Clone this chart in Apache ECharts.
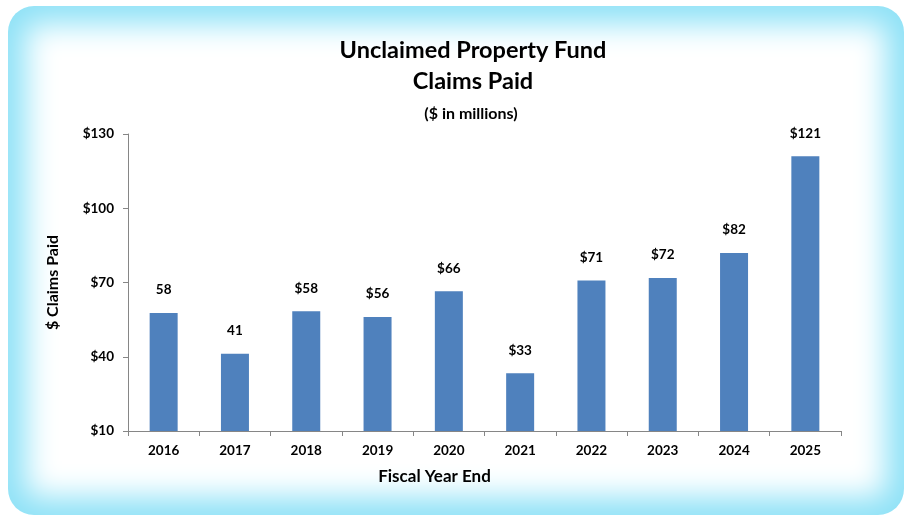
<!DOCTYPE html>
<html>
<head>
<meta charset="utf-8">
<script src="https://cdn.jsdelivr.net/npm/echarts@6/dist/echarts.min.js"></script>
<style>
  html, body {
    margin: 0;
    padding: 0;
    width: 906px;
    height: 516px;
    background: #ffffff;
    overflow: hidden;
  }
  #frame {
    position: absolute;
    left: 8px;
    top: 6px;
    width: 896px;
    height: 509px;
    border-radius: 26px;
    background: #ffffff;
    box-shadow: inset 0 0 30px 18px #8fe2f7;
  }
  #main {
    position: absolute;
    left: 0;
    top: 0;
    width: 906px;
    height: 516px;
  }
</style>
</head>
<body>
<div id="frame"></div>
<div id="main"></div>
<script>
// fiscal years and claims paid ($ millions)
const years = ["2016", "2017", "2018", "2019", "2020", "2021", "2022", "2023", "2024", "2025"];
const claimsPaid = [57.7, 41.2, 58.4, 56.1, 66.5, 33.3, 70.8, 71.8, 81.9, 121.0];
const barLabels = ["58", "41", "$58", "$56", "$66", "$33", "$71", "$72", "$82", "$121"];
const yTicks = [10, 40, 70, 100, 130];

const font = "Lato, 'Open Sans', sans-serif";

const myChart = echarts.init(document.getElementById("main"));

const option = {
  animation: false,
  textStyle: { fontFamily: font },
  title: [
    {
      text: "Unclaimed Property Fund\nClaims Paid",
      left: 468,
      top: 30,
      textAlign: "center",
      textStyle: {
        fontFamily: font,
        fontSize: 23.5,
        fontWeight: "bold",
        color: "#000",
        lineHeight: 31,
      },
    },
    {
      text: "($ in millions)",
      left: 466,
      top: 101,
      textAlign: "center",
      textStyle: {
        fontFamily: font,
        fontSize: 16,
        fontWeight: "bold",
        color: "#000",
      },
    },
  ],
  grid: {
    left: 128,
    right: 65,
    top: 134,
    bottom: 85,
  },
  xAxis: {
    type: "category",
    data: years,
    name: "Fiscal Year End",
    nameLocation: "middle",
    nameGap: 37,
    nameTextStyle: {
      fontFamily: font,
      fontSize: 17,
      fontWeight: "bold",
      color: "#000",
      padding: [0, 100, 0, 0],
    },
    axisLine: { lineStyle: { color: "#868686", width: 1 } },
    axisTick: { show: true, length: 5, lineStyle: { color: "#868686" } },
    axisLabel: {
      margin: 13,
      fontFamily: font,
      fontSize: 13.5,
      fontWeight: "bold",
      color: "#000",
    },
  },
  yAxis: {
    type: "value",
    min: yTicks[0],
    max: yTicks[yTicks.length - 1],
    interval: yTicks[1] - yTicks[0],
    name: "$ Claims Paid",
    nameLocation: "middle",
    nameGap: 67,
    nameTextStyle: {
      fontFamily: font,
      fontSize: 16,
      fontWeight: "bold",
      color: "#000",
    },
    axisLine: { show: true, lineStyle: { color: "#868686", width: 1 } },
    axisTick: { show: true, length: 5, lineStyle: { color: "#868686" } },
    splitLine: { show: false },
    axisLabel: {
      margin: 14,
      fontFamily: font,
      fontSize: 13.5,
      fontWeight: "bold",
      color: "#000",
      formatter: (v) => "$" + v,
    },
  },
  series: [
    {
      name: "Claims Paid",
      type: "bar",
      data: claimsPaid,
      barWidth: 28,
      itemStyle: { color: "#4f81bd" },
      label: {
        show: true,
        position: "top",
        distance: 16,
        fontFamily: font,
        fontSize: 13.5,
        fontWeight: "bold",
        color: "#000",
        formatter: (p) => barLabels[p.dataIndex],
      },
    },
  ],
};

myChart.setOption(option);
window.onresize = myChart.resize;
</script>
</body>
</html>
